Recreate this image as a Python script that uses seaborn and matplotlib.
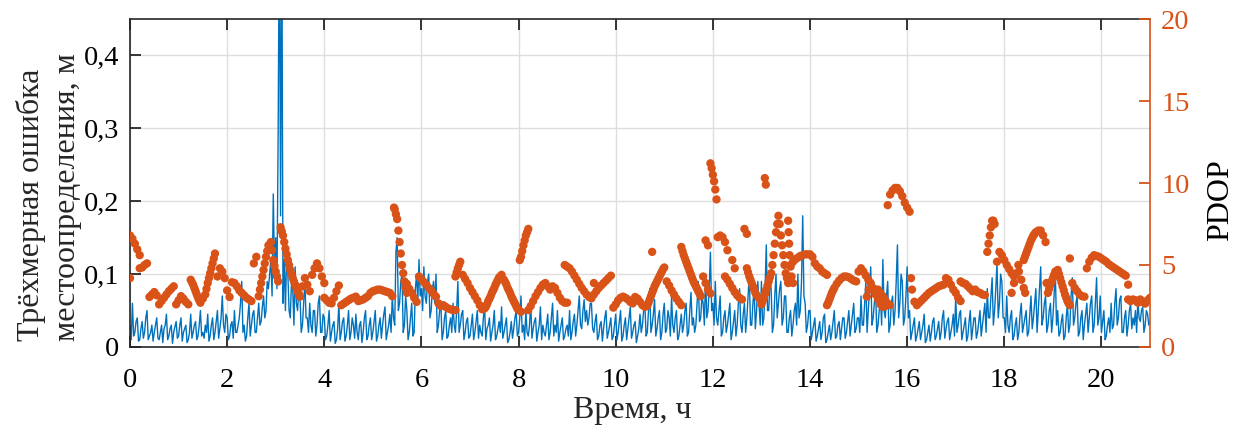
import numpy as np
import pandas as pd
import matplotlib
matplotlib.use("Agg")
import matplotlib.pyplot as plt
import seaborn as sns

sns.set_style("ticks")
plt.rcParams['font.family'] = ['Liberation Serif', 'DejaVu Serif']

# Sampling steps, hours
err_step_h = 0.025
pdop_step_h = 0.05

# 3D position error, metres, 40 epochs per hour
err_h00 = [0.03,0.01,0.06,0.015,0.02,0.035,0.04,0.008,0.01,0.025,0.035,0.012,0.02,0.04,0.05,0.01,0.015,0.02,0.03,0.008,0.02,0.03,0.04,0.012,0.01,0.02,0.03,0.006,0.025,0.03,0.045,0.01,0.015,0.025,0.03,0.005,0.02,0.028,0.035,0.012]
err_h01 = [0.015,0.03,0.04,0.008,0.02,0.025,0.03,0.006,0.01,0.02,0.045,0.012,0.02,0.03,0.035,0.01,0.015,0.03,0.05,0.015,0.02,0.012,0.03,0.02,0.045,0.008,0.015,0.03,0.04,0.01,0.02,0.035,0.05,0.012,0.025,0.04,0.07,0.03,0.02,0.045]
err_h02 = [0.04,0.01,0.015,0.03,0.035,0.012,0.05,0.02,0.02,0.03,0.04,0.06,0.09,0.02,0.03,0.008,0.015,0.04,0.06,0.015,0.03,0.045,0.05,0.02,0.02,0.04,0.06,0.03,0.035,0.055,0.07,0.04,0.05,0.09,0.08,0.1,0.12,0.07,0.21,0.1]
err_h03 = [0.15,0.08,0.29,0.6,0.18,0.6,0.06,0.12,0.05,0.13,0.1,0.05,0.04,0.09,0.08,0.03,0.11,0.06,0.05,0.08,0.07,0.02,0.03,0.06,0.09,0.04,0.04,0.02,0.06,0.03,0.02,0.05,0.05,0.015,0.03,0.06,0.07,0.02,0.02,0.045]
err_h04 = [0.04,0.01,0.015,0.03,0.05,0.008,0.02,0.03,0.035,0.005,0.01,0.025,0.06,0.01,0.02,0.035,0.04,0.008,0.015,0.03,0.05,0.01,0.02,0.04,0.03,0.012,0.045,0.02,0.01,0.03,0.035,0.006,0.02,0.04,0.05,0.01,0.015,0.03,0.04,0.01]
err_h05 = [0.02,0.035,0.05,0.008,0.015,0.03,0.04,0.012,0.03,0.045,0.055,0.01,0.02,0.03,0.045,0.02,0.07,0.04,0.03,0.13,0.15,0.05,0.06,0.09,0.1,0.02,0.03,0.07,0.05,0.01,0.02,0.04,0.06,0.015,0.02,0.08,0.1,0.06,0.12,0.07]
err_h06 = [0.08,0.05,0.11,0.07,0.06,0.09,0.1,0.04,0.05,0.08,0.09,0.06,0.1,0.02,0.03,0.05,0.06,0.01,0.02,0.04,0.05,0.012,0.015,0.03,0.04,0.02,0.06,0.03,0.02,0.05,0.09,0.02,0.03,0.045,0.05,0.01,0.02,0.035,0.04,0.012]
err_h07 = [0.015,0.03,0.045,0.01,0.02,0.035,0.05,0.012,0.03,0.02,0.015,0.04,0.055,0.01,0.025,0.03,0.04,0.008,0.02,0.03,0.05,0.01,0.015,0.025,0.035,0.02,0.055,0.012,0.02,0.03,0.04,0.006,0.01,0.02,0.035,0.012,0.025,0.04,0.05,0.015]
err_h08 = [0.02,0.04,0.07,0.02,0.03,0.01,0.05,0.02,0.015,0.03,0.06,0.012,0.025,0.035,0.04,0.008,0.02,0.03,0.055,0.01,0.03,0.02,0.015,0.03,0.045,0.01,0.02,0.04,0.06,0.015,0.03,0.02,0.05,0.008,0.02,0.03,0.04,0.01,0.015,0.025]
err_h09 = [0.03,0.015,0.05,0.01,0.02,0.035,0.045,0.015,0.03,0.05,0.07,0.03,0.025,0.05,0.065,0.035,0.05,0.03,0.04,0.06,0.06,0.025,0.02,0.035,0.045,0.01,0.015,0.03,0.035,0.008,0.025,0.04,0.05,0.012,0.02,0.03,0.04,0.01,0.015,0.03]
err_h10 = [0.045,0.01,0.02,0.035,0.05,0.008,0.015,0.03,0.04,0.01,0.025,0.04,0.055,0.012,0.02,0.03,0.035,0.006,0.015,0.025,0.045,0.02,0.03,0.05,0.06,0.015,0.02,0.05,0.08,0.02,0.03,0.045,0.065,0.015,0.025,0.04,0.05,0.01,0.02,0.045]
err_h11 = [0.06,0.02,0.025,0.05,0.04,0.015,0.07,0.03,0.02,0.04,0.05,0.01,0.015,0.03,0.045,0.02,0.03,0.05,0.06,0.015,0.02,0.05,0.075,0.03,0.04,0.02,0.03,0.06,0.09,0.035,0.04,0.07,0.06,0.03,0.1,0.04,0.05,0.08,0.13,0.05]
err_h12 = [0.06,0.03,0.09,0.04,0.03,0.05,0.07,0.015,0.02,0.04,0.05,0.02,0.03,0.045,0.06,0.01,0.02,0.035,0.05,0.015,0.03,0.06,0.08,0.03,0.02,0.045,0.06,0.02,0.04,0.07,0.1,0.03,0.03,0.06,0.08,0.025,0.05,0.09,0.06,0.03]
err_h13 = [0.09,0.03,0.04,0.08,0.14,0.05,0.05,0.09,0.08,0.02,0.03,0.07,0.1,0.04,0.06,0.08,0.09,0.03,0.04,0.07,0.07,0.02,0.02,0.04,0.05,0.015,0.03,0.05,0.06,0.03,0.1,0.04,0.05,0.09,0.18,0.07,0.06,0.02,0.03,0.05]
err_h14 = [0.05,0.01,0.02,0.03,0.04,0.008,0.015,0.025,0.035,0.01,0.02,0.04,0.045,0.006,0.01,0.02,0.03,0.01,0.02,0.035,0.05,0.012,0.015,0.03,0.035,0.01,0.025,0.04,0.04,0.012,0.02,0.035,0.05,0.015,0.03,0.045,0.06,0.02,0.025,0.04]
err_h15 = [0.04,0.02,0.07,0.03,0.03,0.06,0.09,0.02,0.05,0.08,0.11,0.03,0.04,0.06,0.08,0.02,0.03,0.05,0.07,0.03,0.12,0.05,0.04,0.07,0.09,0.02,0.03,0.06,0.07,0.03,0.05,0.09,0.14,0.04,0.06,0.1,0.09,0.03,0.04,0.07]
err_h16 = [0.11,0.04,0.05,0.01,0.02,0.03,0.04,0.008,0.015,0.025,0.035,0.01,0.02,0.03,0.045,0.006,0.01,0.02,0.03,0.008,0.02,0.035,0.04,0.01,0.015,0.025,0.035,0.01,0.02,0.04,0.05,0.012,0.025,0.035,0.04,0.01,0.02,0.03,0.045,0.015]
err_h17 = [0.07,0.02,0.03,0.045,0.05,0.01,0.02,0.03,0.04,0.008,0.015,0.035,0.05,0.01,0.025,0.04,0.04,0.012,0.02,0.035,0.05,0.015,0.03,0.045,0.06,0.02,0.08,0.04,0.04,0.07,0.095,0.03,0.05,0.08,0.115,0.04,0.06,0.1,0.09,0.04]
err_h18 = [0.04,0.02,0.07,0.03,0.02,0.04,0.05,0.01,0.015,0.03,0.04,0.01,0.02,0.045,0.06,0.02,0.03,0.04,0.05,0.015,0.02,0.045,0.07,0.025,0.04,0.06,0.08,0.02,0.05,0.08,0.11,0.03,0.04,0.06,0.07,0.02,0.03,0.05,0.06,0.02]
err_h19 = [0.04,0.07,0.105,0.03,0.05,0.015,0.02,0.035,0.045,0.01,0.015,0.04,0.06,0.02,0.03,0.07,0.095,0.03,0.04,0.06,0.07,0.015,0.02,0.04,0.05,0.01,0.03,0.045,0.06,0.02,0.04,0.06,0.07,0.02,0.03,0.06,0.095,0.03,0.04,0.07]
err_h20 = [0.02,0.035,0.05,0.01,0.015,0.03,0.04,0.02,0.06,0.025,0.03,0.06,0.08,0.03,0.04,0.065,0.07,0.02,0.02,0.04,0.05,0.015,0.03,0.05,0.06,0.025,0.04,0.03,0.05,0.02,0.065,0.04,0.035,0.05,0.055,0.02,0.03,0.05,0.045,0.03]
err_h21 = [0.035]

# PDOP, 20 epochs per hour (nan = no solution)
nan = float('nan')
pdop_h00 = [6.8,6.6,6.3,5.95,5.6,4.85,5.0,5.1,3.05,3.2,3.35,3.15,2.6,2.8,3.0,3.2,3.4,3.55,3.7,2.6]
pdop_h01 = [2.85,3.1,2.95,2.75,2.6,4.1,3.8,3.4,3.0,2.7,2.95,3.2,3.9,4.5,5.1,5.7,4.3,4.8,4.6,4.2]
pdop_h02 = [3.45,3.05,3.95,3.9,3.7,3.45,3.3,3.15,3.0,2.9,2.8,5.1,5.5,3.1,3.9,4.7,5.5,6.2,6.4,5.3]
pdop_h03 = [4.6,4.0,7.3,6.8,6.0,5.3,4.7,4.2,3.8,3.4,3.07,3.7,4.2,3.8,3.4,4.4,4.8,5.1,4.8,4.3]
pdop_h04 = [3.0,2.85,2.7,2.66,3.0,3.4,3.75,2.55,2.65,2.75,2.85,2.95,3.0,3.07,2.8,2.85,2.9,3.0,3.1,3.3]
pdop_h05 = [3.4,3.45,3.5,3.5,3.45,3.4,3.35,3.3,3.1,8.4,7.8,6.4,5.0,4.0,3.3,3.55,3.3,3.0,2.75,4.3]
pdop_h06 = [4.15,3.95,3.8,3.6,3.45,3.25,3.07,2.66,2.5,2.55,2.45,2.35,2.3,2.25,4.3,4.8,5.2,4.4,4.15,3.9]
pdop_h07 = [3.6,3.35,3.1,2.85,2.55,2.3,2.35,2.6,2.95,3.3,3.6,3.95,4.25,4.4,4.1,3.8,3.45,3.1,2.8,2.5]
pdop_h08 = [2.25,5.5,6.2,6.8,7.2,2.5,2.8,3.1,3.35,3.6,3.8,3.9,3.7,3.5,3.7,3.6,3.3,3.0,2.8,2.7]
pdop_h09 = [4.9,4.8,4.6,4.35,4.1,3.85,3.6,3.4,3.2,3.05,2.97,3.2,3.4,3.6,3.75,3.9,4.05,4.2,4.35,2.4]
pdop_h10 = [2.6,2.85,3.0,3.07,3.0,2.9,2.75,2.66,3.05,2.95,2.75,2.55,2.45,2.5,2.9,3.3,3.7,4.0,4.3,4.6]
pdop_h11 = [4.85,4.0,3.75,3.45,3.2,2.95,2.75,6.1,5.6,5.2,4.8,4.4,4.0,3.7,3.4,3.1,4.3,3.9,3.5,11.2]
pdop_h12 = [10.5,9.6,6.7,6.8,6.7,4.3,4.1,3.85,3.6,3.35,3.15,3.0,2.9,7.2,4.8,4.3,3.9,3.5,3.15,2.97]
pdop_h13 = [2.6,3.0,3.5,4.0,4.5,5.6,7.0,8.0,6.8,5.6,4.5,3.9,5.0,5.2,5.35,5.45,5.55,5.6,5.65,5.65]
pdop_h14 = [5.65,5.5,5.1,4.9,4.8,4.6,4.5,2.55,2.9,3.3,3.6,3.85,4.05,4.2,4.3,4.3,4.25,4.15,4.05,4.0]
pdop_h15 = [4.6,4.8,4.6,4.35,4.1,3.9,3.6,3.2,2.9,2.6,2.45,2.5,8.65,9.3,9.55,9.7,9.7,9.5,9.2,8.8]
pdop_h16 = [8.5,8.25,3.5,2.76,2.55,2.7,2.85,3.0,3.15,3.3,3.4,3.5,3.6,3.7,3.75,3.8,4.2,4.1,3.8,3.5]
pdop_h17 = [3.3,3.0,2.8,3.9,3.85,3.7,3.55,3.4,3.5,3.35,3.3,3.2,3.17,5.8,6.8,7.7,7.5,5.2,5.8,5.6]
pdop_h18 = [5.3,5.0,4.75,4.5,4.3,nan,nan,nan,5.3,5.7,6.1,6.5,6.8,7.0,7.1,7.1,6.8,6.4,3.3,3.8]
pdop_h19 = [4.2,4.6,4.7,4.2,3.7,3.2,2.8,2.55,3.9,3.6,3.4,3.2,3.1,3.07,4.8,5.2,5.45,5.6,5.55,5.5]
pdop_h20 = [5.4,5.3,5.2,5.05,4.95,4.85,4.75,4.65,4.55,4.45,4.35,2.9,2.8,2.9,2.85,2.7,2.9,2.75,2.65,2.85]
pdop_h21 = [3.0]

# Overlapping PDOP branches and half-step epochs on fast-changing stretches
pdop_extra = [
    (0.0, 4.2), (0.2, 4.8), (4.0, 3.9), (5.7, 3.85), (6.7, 2.25), (8.05, 2.15), (8.2, 2.25),
    (8.95, 5.0), (9.0, 2.7), (9.55, 3.9), (10.75, 5.8), (11.35, 2.55), (11.85, 6.5), (11.9, 6.2),
    (11.95, 3.27), (12.25, 6.4), (12.3, 5.9), (12.4, 5.3), (12.45, 4.8), (12.7, 6.9),
    (13.07, 10.3), (13.09, 9.9),
    (13.55, 7.7), (13.56, 7.0), (13.57, 6.3), (13.58, 5.6), (13.6, 4.9), (13.62, 4.3), (13.65, 3.9),
    (14.35, 4.4), (15.17, 3.07), (15.21, 3.5), (15.4, 3.5), (15.45, 3.3), (15.5, 3.1),
    (15.55, 2.85), (15.6, 2.65), (15.64, 2.55), (16.08, 4.2), (17.1, 4.0),
    (18.15, 3.3), (18.2, 3.9), (18.25, 4.5), (18.29, 5.0), (18.3, 4.6), (18.35, 4.1),
    (18.4, 3.6), (18.43, 3.3), (18.87, 3.9), (19.35, 5.4), (20.55, 3.8),
    (1.275, 3.95), (1.325, 3.6), (1.375, 3.2), (1.425, 2.85),
    (1.575, 3.55), (1.625, 4.2), (1.675, 4.8), (1.725, 5.4),
    (2.675, 3.5), (2.725, 4.3), (2.775, 5.1), (2.825, 5.85), (2.925, 5.9), (2.975, 4.95), (3.025, 4.3),
    (3.125, 7.05), (3.175, 6.4), (3.225, 5.65), (3.275, 5.0), (3.325, 4.45), (3.375, 4.0),
    (3.425, 3.6), (3.475, 3.25),
    (5.435, 8.5), (5.475, 8.1), (5.525, 7.1), (5.575, 5.7), (5.625, 4.5), (5.675, 3.6),
    (6.725, 4.55), (6.775, 5.0),
    (7.325, 2.45), (7.375, 2.8), (7.425, 3.1), (7.475, 3.45), (7.525, 3.8), (7.575, 4.1),
    (7.725, 3.95), (7.775, 3.6), (7.825, 3.3), (7.875, 2.95), (7.925, 2.65), (7.975, 2.35),
    (8.025, 5.3), (8.075, 5.85), (8.125, 6.5), (8.175, 7.0),
    (10.675, 2.7), (10.725, 3.1), (10.775, 3.5), (10.825, 3.85), (10.875, 4.15), (10.925, 4.45),
    (10.975, 4.75),
    (11.375, 5.85), (11.425, 5.4), (11.475, 5.0), (11.525, 4.6), (11.575, 4.2), (11.625, 3.85),
    (11.675, 3.55), (11.725, 3.25),
    (11.975, 10.9), (12.025, 10.1), (12.075, 9.0),
    (12.725, 4.55), (12.775, 4.1), (12.825, 3.7), (12.875, 3.3),
    (13.025, 2.8), (13.075, 3.25), (13.125, 3.75), (13.175, 4.25), (13.225, 5.0), (13.275, 6.3),
    (13.325, 7.5), (13.375, 7.5), (13.425, 6.2), (13.475, 5.0), (13.525, 4.2),
    (14.375, 2.7), (14.425, 3.1), (14.475, 3.45),
    (17.675, 6.3), (17.725, 7.3), (17.775, 7.7),
    (18.425, 5.5), (18.475, 5.9), (18.525, 6.3), (18.575, 6.65), (18.625, 6.9),
    (18.925, 3.55), (18.975, 4.0), (19.025, 4.4),
    (19.125, 4.45), (19.175, 3.95), (19.225, 3.45), (19.275, 3.0), (19.325, 2.65),
]

err_parts = [err_h00, err_h01, err_h02, err_h03, err_h04, err_h05, err_h06, err_h07, err_h08,
             err_h09, err_h10, err_h11, err_h12, err_h13, err_h14, err_h15, err_h16, err_h17,
             err_h18, err_h19, err_h20, err_h21]
pdop_parts = [pdop_h00, pdop_h01, pdop_h02, pdop_h03, pdop_h04, pdop_h05, pdop_h06, pdop_h07,
              pdop_h08, pdop_h09, pdop_h10, pdop_h11, pdop_h12, pdop_h13, pdop_h14, pdop_h15,
              pdop_h16, pdop_h17, pdop_h18, pdop_h19, pdop_h20, pdop_h21]


def hourly_frame(parts, step, name):
    """Stack per-hour lists into one (t, value) table."""
    rows = []
    for hour, vals in enumerate(parts):
        for i, v in enumerate(vals):
            rows.append((round(hour + i * step, 4), v))
    return pd.DataFrame(rows, columns=['t', name])


err_df = hourly_frame(err_parts, err_step_h, 'err')
pdop_df = pd.concat([
    hourly_frame(pdop_parts, pdop_step_h, 'pdop'),
    pd.DataFrame(pdop_extra, columns=['t', 'pdop']),
]).dropna()

blue = '#0072BD'
orange = '#D95319'
fs_tick = 20.5
fs_label = 23

fig = plt.figure(figsize=(12.4, 4.34), dpi=100)
ax = fig.add_axes([130 / 1240, 87 / 434, 1020 / 1240, 328 / 434])
ax2 = ax.twinx()

sns.lineplot(data=err_df, x='t', y='err', ax=ax, color=blue, linewidth=1.0,
             estimator=None, sort=False)
sns.scatterplot(data=pdop_df, x='t', y='pdop', ax=ax2, color=orange, s=36,
                linewidth=0, edgecolor='none')

ax.set_xlim(0, 21)
ax.set_ylim(0, 0.45)
ax2.set_ylim(0, 20)

ax.set_xticks(np.arange(0, 21, 2))
ax.set_xticklabels([str(v) for v in range(0, 21, 2)])
ax.set_yticks([0, 0.1, 0.2, 0.3, 0.4])
ax.set_yticklabels(['0', '0,1', '0,2', '0,3', '0,4'])
ax2.set_yticks([0, 5, 10, 15, 20])
ax2.set_yticklabels(['0', '5', '10', '15', '20'])

ax.grid(True, color='#dedede', linewidth=1.0)
ax.set_axisbelow(True)

ax.tick_params(axis='both', direction='in', length=8, width=1.3, labelsize=fs_tick,
               top=True, right=False, colors='#262626', labelcolor='black')
ax.tick_params(axis='y', pad=8)
ax.tick_params(axis='x', pad=15)
ax2.tick_params(axis='y', direction='in', length=8, width=1.3, labelsize=fs_tick,
                colors=orange, pad=8)

for side in ['left', 'top', 'bottom']:
    ax.spines[side].set_color('#262626')
    ax.spines[side].set_linewidth(1.2)
    ax2.spines[side].set_visible(False)
ax.spines['right'].set_visible(False)
ax2.spines['right'].set_color(orange)
ax2.spines['right'].set_linewidth(1.2)

ax.set_xlabel('Время, ч', fontsize=fs_label)
ax.set_ylabel('Трёхмерная ошибка\nместоопределения, м', fontsize=fs_label,
              multialignment='left', linespacing=1.3)
ax2.set_ylabel('PDOP', fontsize=fs_label, color='black')
ax.xaxis.set_label_coords(0.492, -0.15)
ax.yaxis.set_label_coords(-0.047, 0.458)
ax2.yaxis.set_label_coords(1.055, 0.448)

fig.savefig('out.png', dpi=100)
